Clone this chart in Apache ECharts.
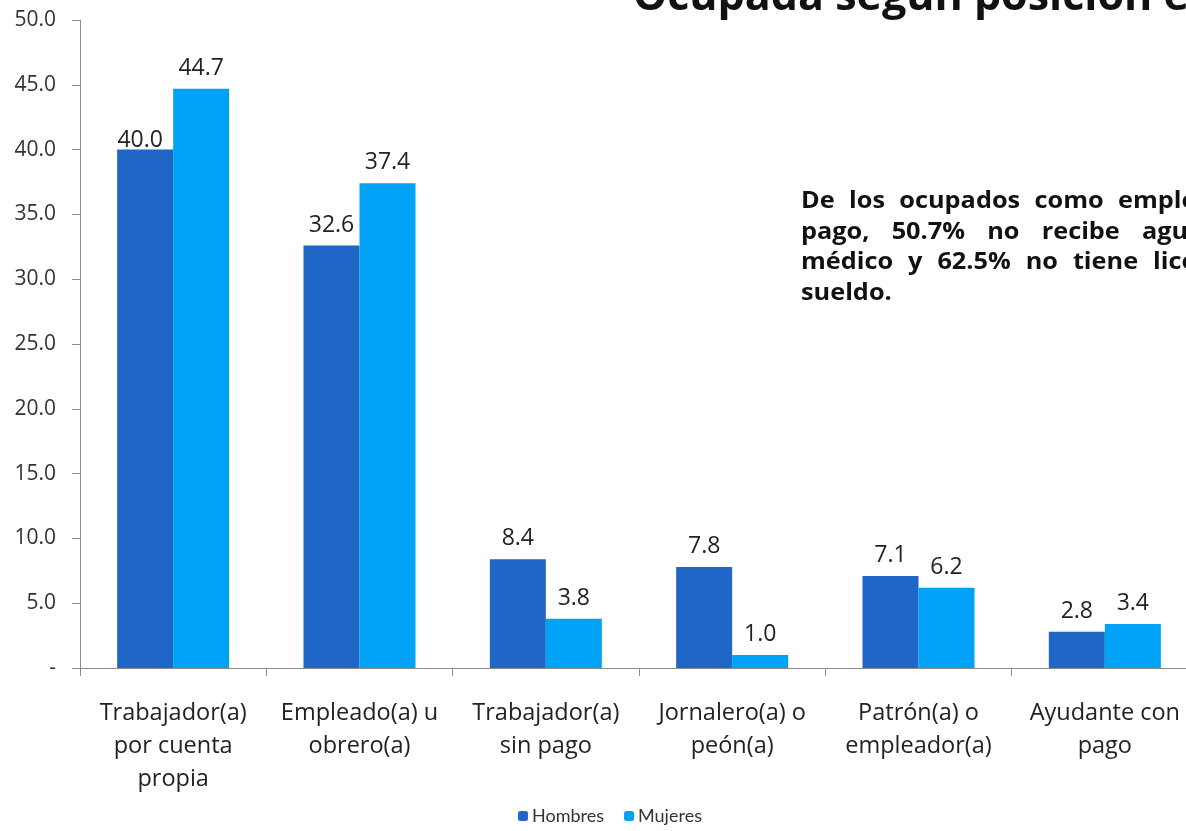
<!DOCTYPE html>
<html><head><meta charset="utf-8">
<script src="https://cdn.jsdelivr.net/npm/echarts@6/dist/echarts.min.js"></script>
<style>html,body{margin:0;padding:0;background:#fff;overflow:hidden;width:1186px;height:831px}#c{width:1200px;height:831px}</style>
</head><body><div id="c"></div>
<script>
const categories = ["Trabajador(a)\npor cuenta\npropia", "Empleado(a) u\nobrero(a)", "Trabajador(a)\nsin pago", "Jornalero(a) o\npeón(a)", "Patrón(a) o\nempleador(a)", "Ayudante con\npago"];
const hombres = [40.0, 32.6, 8.4, 7.8, 7.1, 2.8];
const mujeres = [44.7, 37.4, 3.8, 1.0, 6.2, 3.4];
const seriesNames = ["Hombres", "Mujeres"];
const titleText = "Ocupada según posición en el trabajo";
// annotation text, one array per justified line
const noteLine1 = ["De", "los", "ocupados", "como", "empleados"];
const noteLine2 = ["pago,", "50.7%", "no", "recibe", "aguinaldo"];
const noteLine3 = ["médico", "y", "62.5%", "no", "tiene", "licencia"];
const noteLine4 = ["sueldo."];
const noteLines = [noteLine1, noteLine2, noteLine3, noteLine4];

// justified layout: x where the last word of each line starts (null = ragged last line)
const NOTE_LEFT = 801, NOTE_SCALE = 1.1, NOTE_FONT = "bold 23px 'Open Sans', sans-serif";
const lastWordX = [1118, 1142, 1153, null];
const ctx = document.createElement('canvas').getContext('2d');
ctx.font = NOTE_FONT;
const wWidth = w => ctx.measureText(w).width * NOTE_SCALE;

const FONT = "'Open Sans', 'Noto Sans', sans-serif";
const chart = echarts.init(document.getElementById('c'));
const lbl = {show: true, position: 'top', distance: 9, color: '#222', fontSize: 23, fontFamily: FONT, formatter: p => p.value.toFixed(1)};
const hombresData = hombres.map((v, i) => i === 0 ? {value: v, label: {distance: -2, offset: [-5, 0]}} : v);

const graphics = [
  {type: 'text', left: 633, top: -24, style: {text: titleText, font: "bold 43px 'Open Sans', sans-serif", fill: '#111'}}
];
noteLines.forEach((words, li) => {
  let gap = 7;
  if (lastWordX[li] !== null) {
    const used = words.slice(0, -1).reduce((s, w) => s + wWidth(w), 0);
    gap = (lastWordX[li] - NOTE_LEFT - used) / (words.length - 1);
  }
  let x = NOTE_LEFT;
  words.forEach(w => {
    graphics.push({type: 'text', x: x, y: 190 + li * 30.5, scaleX: NOTE_SCALE,
      style: {text: w, font: NOTE_FONT, fill: '#111', verticalAlign: 'top'}});
    x += wWidth(w) + gap;
  });
});

chart.setOption({
  animation: false,
  backgroundColor: '#fff',
  grid: {left: 80, top: 20, right: 2, height: 648, containLabel: false},
  legend: {
    bottom: 1, left: 513, itemWidth: 10, itemHeight: 10, itemGap: 20,
    textStyle: {fontSize: 18, color: '#333', fontFamily: "Lato, 'Open Sans', sans-serif", padding: [0, 0, 0, -1]},
    data: seriesNames
  },
  xAxis: {
    type: 'category', data: categories,
    axisLine: {lineStyle: {color: '#8c8c8c', width: 1}},
    axisTick: {show: true, length: 8, lineStyle: {color: '#8c8c8c'}},
    axisLabel: {interval: 0, fontSize: 23.5, lineHeight: 33, color: '#222', fontFamily: FONT, margin: 29}
  },
  yAxis: {
    type: 'value', min: 0, max: 50, interval: 5,
    splitLine: {show: false},
    axisLine: {show: true, lineStyle: {color: '#8c8c8c', width: 1}},
    axisTick: {show: true, length: 8, lineStyle: {color: '#8c8c8c'}},
    axisLabel: {fontSize: 21, color: '#333', fontFamily: FONT, margin: 24,
      formatter: v => v === 0 ? '-' : v.toFixed(1)}
  },
  series: [
    {name: seriesNames[0], type: 'bar', data: hombresData, barWidth: 56, barGap: '0%',
      itemStyle: {color: '#1F66C6'}, label: lbl},
    {name: seriesNames[1], type: 'bar', data: mujeres, barWidth: 56, barGap: '0%',
      itemStyle: {color: '#00A2F5'}, label: lbl}
  ],
  graphic: graphics
});
</script></body></html>
